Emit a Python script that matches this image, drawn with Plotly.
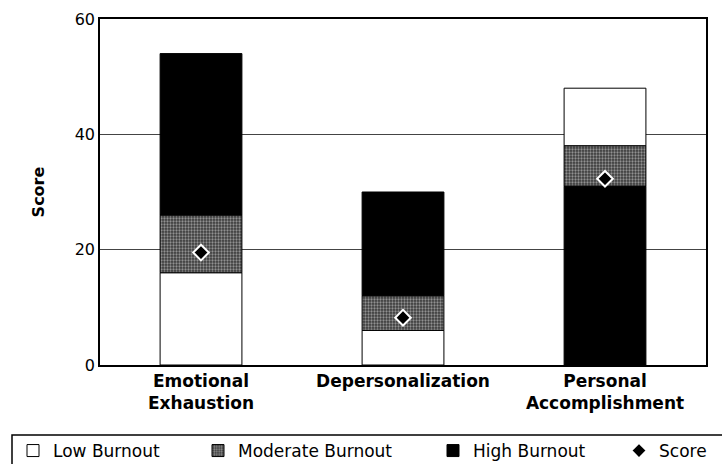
import plotly.graph_objects as go

categories = ["Emotional<br>Exhaustion", "Depersonalization", "Personal<br>Accomplishment"]
low_from = [0, 0, 38]
low_to = [16, 6, 48]
mod_from = [16, 6, 31]
mod_to = [26, 12, 38]
high_from = [26, 12, 0]
high_to = [54, 30, 31]
score = [19.5, 8.2, 32.3]
y_ticks = [0, 20, 40, 60]

FONT = "DejaVu Sans, Liberation Sans, sans-serif"

def seg(a, b):
    return [hi - lo for lo, hi in zip(a, b)]

fig = go.Figure()
fig.add_trace(go.Bar(
    name="Low Burnout", x=categories, y=seg(low_from, low_to), base=low_from,
    marker=dict(color="white", line=dict(color="black", width=1)), width=0.405,
    legend="legend",
))
fig.add_trace(go.Bar(
    name="Moderate Burnout", x=categories, y=seg(mod_from, mod_to), base=mod_from,
    marker=dict(color="#3c3c3c", line=dict(color="black", width=1),
                pattern=dict(shape=".", fgcolor="#e8e8e8", bgcolor="#3a3a3a", size=3, solidity=0.45)),
    width=0.405, legend="legend2",
))
fig.add_trace(go.Bar(
    name="High Burnout", x=categories, y=seg(high_from, high_to), base=high_from,
    marker=dict(color="black", line=dict(color="black", width=1)), width=0.405,
    legend="legend3",
))
fig.add_trace(go.Scatter(
    name="Score", x=categories, y=score, mode="markers",
    marker=dict(symbol="diamond", size=12, color="black", line=dict(color="white", width=2)),
    legend="legend4",
))

PL, PW, PT, PB = 100, 606, 19, 365
def px_x(p):
    return (p - PL) / PW
def px_y(p):
    return (PB - p) / (PB - PT)

leg_common = dict(orientation="h", xanchor="left", yanchor="middle",
                  font=dict(family=FONT, size=17), itemwidth=30,
                  bgcolor="rgba(0,0,0,0)", borderwidth=0)
leg_y = px_y(451)

fig.update_layout(
    width=722, height=464,
    margin=dict(l=PL, r=722 - PL - PW, t=PT, b=464 - PB, autoexpand=False),
    barmode="overlay",
    plot_bgcolor="white", paper_bgcolor="white",
    font=dict(family=FONT, color="black", size=14),
    showlegend=True,
    legend=dict(x=px_x(13), y=leg_y, **leg_common),
    legend2=dict(x=px_x(198), y=leg_y, **leg_common),
    legend3=dict(x=px_x(433), y=leg_y, **leg_common),
    legend4=dict(x=px_x(619), y=leg_y, **leg_common),
    shapes=[dict(type="rect", xref="paper", yref="paper",
                 x0=px_x(12), x1=px_x(760), y0=px_y(500), y1=px_y(435),
                 line=dict(color="black", width=1.5))],
)
fig.update_xaxes(
    showline=True, linecolor="black", linewidth=1.5, mirror=True,
    tickfont=dict(family=FONT, size=17, weight="bold"), ticks="",
)
fig.update_yaxes(
    range=[0, 60], tickvals=y_ticks, showgrid=True, gridcolor="#444", gridwidth=1,
    showline=True, linecolor="black", linewidth=1.5, mirror=True,
    tickfont=dict(family=FONT, size=16), ticks="", ticklen=0,
    title=dict(text="<b>Score</b>", font=dict(family=FONT, size=16), standoff=26),
    zeroline=False,
)
fig.write_html("out.html", config={"displayModeBar": False},
               post_script="document.body.style.margin='0px';")
